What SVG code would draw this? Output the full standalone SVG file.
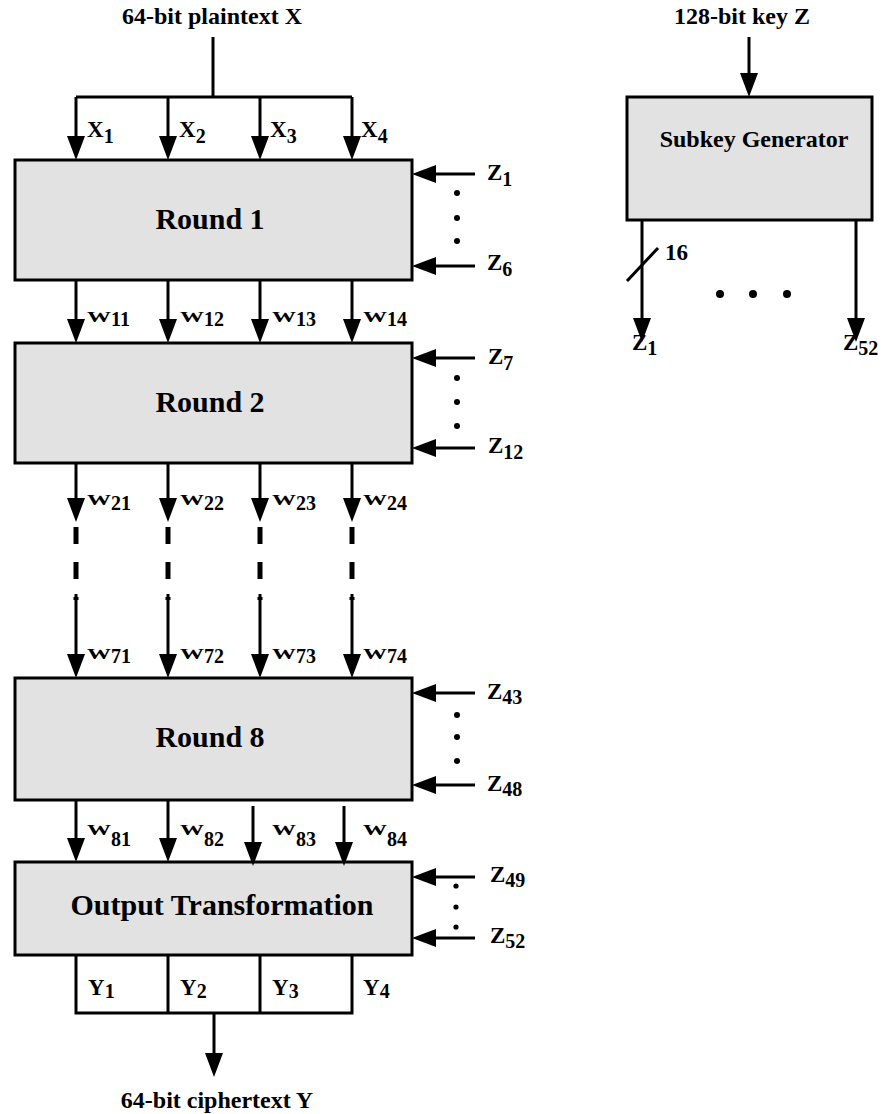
<svg xmlns="http://www.w3.org/2000/svg" width="884" height="1114" viewBox="0 0 884 1114">
  <style>
    .box { fill: #e2e2e2; stroke: #000; stroke-width: 3; }
    .wire { fill: none; stroke: #000; stroke-width: 3; }
    .arrow { fill: none; stroke: #000; stroke-width: 3; marker-end: url(#head); }
    .dash { fill: none; stroke: #000; stroke-width: 5; stroke-dasharray: 17 18; }
    .t { font-family: "Liberation Serif", "Times New Roman", serif; font-weight: bold; fill: #000; }
    .title { font-size: 24px; text-anchor: middle; }
    .round { font-size: 30px; text-anchor: middle; }
    .lbl { font-size: 23px; }
    .wl { font-size: 15px; }
    .sub { font-size: 20px; }
    .dot { fill: #000; }
  </style>
  <defs>
    <marker id="head" markerUnits="userSpaceOnUse" viewBox="0 0 24 18" markerWidth="24" markerHeight="18" refX="12" refY="9" orient="auto">
      <path d="M0,0 L24,9 L0,18 Z" fill="#000"/>
    </marker>
  </defs>

  <!-- plaintext input -->
  <g id="plaintext">
    <text class="t title" x="212" y="24">64-bit plaintext X</text>
  </g>

  <!-- key input -->
  <g id="key">
    <text class="t title" x="742" y="24">128-bit key Z</text>
  </g>

  <!-- round 1 -->
  <g id="round1">
    <rect class="box" x="15" y="160" width="397" height="120"/>
    <text class="t round" x="210" y="229">Round 1</text>
  </g>

  <!-- round 2 -->
  <g id="round2">
    <rect class="box" x="15" y="343" width="397" height="120"/>
    <text class="t round" x="210" y="412">Round 2</text>
  </g>

  <!-- round 8 -->
  <g id="round8">
    <rect class="box" x="15" y="678" width="397" height="122"/>
    <text class="t round" x="210" y="747">Round 8</text>
  </g>

  <!-- output transformation -->
  <g id="output">
    <rect class="box" x="15" y="862" width="397" height="93"/>
    <text class="t round" x="222" y="915">Output Transformation</text>
  </g>

  <!-- output words Y1..Y4 -->
  <g id="ywords">
    <path class="wire" d="M76,955 V1013 H352 V955 M168,955 V1013 M260,955 V1013"/>
    <text class="t lbl" x="88" y="995">Y<tspan class="sub" dy="3">1</tspan></text>
    <text class="t lbl" x="180" y="995">Y<tspan class="sub" dy="3">2</tspan></text>
    <text class="t lbl" x="272" y="995">Y<tspan class="sub" dy="3">3</tspan></text>
    <text class="t lbl" x="363" y="995">Y<tspan class="sub" dy="3">4</tspan></text>
  </g>

  <!-- ciphertext output -->
  <g id="ciphertext">
    <text class="t title" x="217" y="1108">64-bit ciphertext Y</text>
  </g>

  <!-- subkey generator -->
  <g id="subkeygen">
    <rect class="box" x="627" y="97" width="245" height="123"/>
    <text class="t title" x="754" y="147">Subkey Generator</text>
  </g>

  <!-- connectors -->
  <g id="connectors">
    <!-- plaintext split -->
    <path class="wire" d="M213,37 V97 M76,97 H352"/>
    <line class="arrow" x1="76" y1="97" x2="76" y2="148"/>
    <line class="arrow" x1="168" y1="97" x2="168" y2="148"/>
    <line class="arrow" x1="260" y1="97" x2="260" y2="148"/>
    <line class="arrow" x1="352" y1="97" x2="352" y2="148"/>

    <!-- round 1 to round 2 -->
    <line class="arrow" x1="76" y1="280" x2="76" y2="331"/>
    <line class="arrow" x1="168" y1="280" x2="168" y2="331"/>
    <line class="arrow" x1="260" y1="280" x2="260" y2="331"/>
    <line class="arrow" x1="352" y1="280" x2="352" y2="331"/>

    <!-- round 2 outputs -->
    <line class="arrow" x1="76" y1="463" x2="76" y2="510"/>
    <line class="arrow" x1="168" y1="463" x2="168" y2="510"/>
    <line class="arrow" x1="260" y1="463" x2="260" y2="510"/>
    <line class="arrow" x1="352" y1="463" x2="352" y2="510"/>

    <!-- intermediate rounds elided -->
    <line class="dash" x1="76" y1="527" x2="76" y2="600"/>
    <line class="dash" x1="168" y1="527" x2="168" y2="600"/>
    <line class="dash" x1="260" y1="527" x2="260" y2="600"/>
    <line class="dash" x1="352" y1="527" x2="352" y2="600"/>

    <!-- round 7 outputs into round 8 -->
    <line class="arrow" x1="76" y1="594" x2="76" y2="666"/>
    <line class="arrow" x1="168" y1="594" x2="168" y2="666"/>
    <line class="arrow" x1="260" y1="594" x2="260" y2="666"/>
    <line class="arrow" x1="352" y1="594" x2="352" y2="666"/>

    <!-- round 8 to output transformation -->
    <line class="arrow" x1="76" y1="800" x2="76" y2="850"/>
    <line class="arrow" x1="168" y1="800" x2="168" y2="850"/>
    <line class="arrow" x1="253" y1="806" x2="253" y2="854"/>
    <line class="arrow" x1="344" y1="806" x2="344" y2="854"/>

    <!-- ciphertext -->
    <line class="arrow" x1="214" y1="1013" x2="214" y2="1065"/>

    <!-- subkey inputs -->
    <line class="arrow" x1="475" y1="174" x2="424" y2="174"/>
    <line class="arrow" x1="475" y1="266" x2="424" y2="266"/>
    <line class="arrow" x1="475" y1="358" x2="424" y2="358"/>
    <line class="arrow" x1="475" y1="448" x2="424" y2="448"/>
    <line class="arrow" x1="475" y1="693" x2="424" y2="693"/>
    <line class="arrow" x1="475" y1="785" x2="424" y2="785"/>
    <line class="arrow" x1="475" y1="877" x2="424" y2="877"/>
    <line class="arrow" x1="475" y1="938" x2="424" y2="938"/>

    <!-- key into generator -->
    <line class="arrow" x1="749" y1="37" x2="749" y2="85"/>

    <!-- generator outputs -->
    <line class="arrow" x1="642" y1="220" x2="642" y2="330"/>
    <line class="arrow" x1="856" y1="220" x2="856" y2="330"/>
    <line class="wire" x1="627" y1="281" x2="658" y2="248" stroke-width="2"/>
  </g>

  <!-- input word labels -->
  <g id="xlabels">
    <text class="t lbl" x="87" y="137">X<tspan class="sub" dy="6">1</tspan></text>
    <text class="t lbl" x="179" y="137">X<tspan class="sub" dy="6">2</tspan></text>
    <text class="t lbl" x="270" y="137">X<tspan class="sub" dy="6">3</tspan></text>
    <text class="t lbl" x="361" y="137">X<tspan class="sub" dy="6">4</tspan></text>
  </g>

  <!-- intermediate word labels: wide, short W with large subscripts -->
  <g id="wlabels">
    <text class="t wl" x="87" y="322"><tspan textLength="24" lengthAdjust="spacingAndGlyphs">W</tspan><tspan class="sub" dy="4">11</tspan></text>
    <text class="t wl" x="180" y="322"><tspan textLength="24" lengthAdjust="spacingAndGlyphs">W</tspan><tspan class="sub" dy="4">12</tspan></text>
    <text class="t wl" x="272" y="322"><tspan textLength="24" lengthAdjust="spacingAndGlyphs">W</tspan><tspan class="sub" dy="4">13</tspan></text>
    <text class="t wl" x="363" y="322"><tspan textLength="24" lengthAdjust="spacingAndGlyphs">W</tspan><tspan class="sub" dy="4">14</tspan></text>

    <text class="t wl" x="87" y="505"><tspan textLength="24" lengthAdjust="spacingAndGlyphs">W</tspan><tspan class="sub" dy="5">21</tspan></text>
    <text class="t wl" x="180" y="505"><tspan textLength="24" lengthAdjust="spacingAndGlyphs">W</tspan><tspan class="sub" dy="5">22</tspan></text>
    <text class="t wl" x="272" y="505"><tspan textLength="24" lengthAdjust="spacingAndGlyphs">W</tspan><tspan class="sub" dy="5">23</tspan></text>
    <text class="t wl" x="363" y="505"><tspan textLength="24" lengthAdjust="spacingAndGlyphs">W</tspan><tspan class="sub" dy="5">24</tspan></text>

    <text class="t wl" x="87" y="659"><tspan textLength="24" lengthAdjust="spacingAndGlyphs">W</tspan><tspan class="sub" dy="4">71</tspan></text>
    <text class="t wl" x="180" y="659"><tspan textLength="24" lengthAdjust="spacingAndGlyphs">W</tspan><tspan class="sub" dy="4">72</tspan></text>
    <text class="t wl" x="272" y="659"><tspan textLength="24" lengthAdjust="spacingAndGlyphs">W</tspan><tspan class="sub" dy="4">73</tspan></text>
    <text class="t wl" x="363" y="659"><tspan textLength="24" lengthAdjust="spacingAndGlyphs">W</tspan><tspan class="sub" dy="4">74</tspan></text>

    <text class="t wl" x="87" y="835"><tspan textLength="24" lengthAdjust="spacingAndGlyphs">W</tspan><tspan class="sub" dy="11">81</tspan></text>
    <text class="t wl" x="180" y="835"><tspan textLength="24" lengthAdjust="spacingAndGlyphs">W</tspan><tspan class="sub" dy="11">82</tspan></text>
    <text class="t wl" x="272" y="835"><tspan textLength="24" lengthAdjust="spacingAndGlyphs">W</tspan><tspan class="sub" dy="11">83</tspan></text>
    <text class="t wl" x="363" y="835"><tspan textLength="24" lengthAdjust="spacingAndGlyphs">W</tspan><tspan class="sub" dy="11">84</tspan></text>
  </g>

  <!-- subkey labels and ellipses -->
  <g id="zlabels">
    <text class="t lbl" x="487" y="180">Z<tspan class="sub" dy="6">1</tspan></text>
    <text class="t lbl" x="487" y="270">Z<tspan class="sub" dy="6">6</tspan></text>
    <circle class="dot" cx="457" cy="193" r="3"/>
    <circle class="dot" cx="457" cy="218" r="3"/>
    <circle class="dot" cx="457" cy="241" r="3"/>

    <text class="t lbl" x="488" y="364">Z<tspan class="sub" dy="6">7</tspan></text>
    <text class="t lbl" x="488" y="453">Z<tspan class="sub" dy="6">12</tspan></text>
    <circle class="dot" cx="457" cy="378" r="3"/>
    <circle class="dot" cx="457" cy="402" r="3"/>
    <circle class="dot" cx="457" cy="426" r="3"/>

    <text class="t lbl" x="487" y="699">Z<tspan class="sub" dy="5">43</tspan></text>
    <text class="t lbl" x="487" y="791">Z<tspan class="sub" dy="5">48</tspan></text>
    <circle class="dot" cx="457" cy="715" r="3"/>
    <circle class="dot" cx="457" cy="737" r="3"/>
    <circle class="dot" cx="457" cy="761" r="3"/>

    <text class="t lbl" x="490" y="882">Z<tspan class="sub" dy="5">49</tspan></text>
    <text class="t lbl" x="490" y="943">Z<tspan class="sub" dy="5">52</tspan></text>
    <circle class="dot" cx="456" cy="886" r="2.6"/>
    <circle class="dot" cx="456" cy="907" r="2.6"/>
    <circle class="dot" cx="456" cy="927" r="2.6"/>
  </g>

  <!-- generator output labels -->
  <g id="genlabels">
    <text class="t lbl" x="665" y="260">16</text>
    <circle class="dot" cx="720" cy="294" r="4"/>
    <circle class="dot" cx="753" cy="294" r="4"/>
    <circle class="dot" cx="787" cy="294" r="4"/>
    <text class="t lbl" x="632" y="350">Z<tspan class="sub" dy="5">1</tspan></text>
    <text class="t lbl" x="843" y="350">Z<tspan class="sub" dy="5">52</tspan></text>
  </g>
</svg>
